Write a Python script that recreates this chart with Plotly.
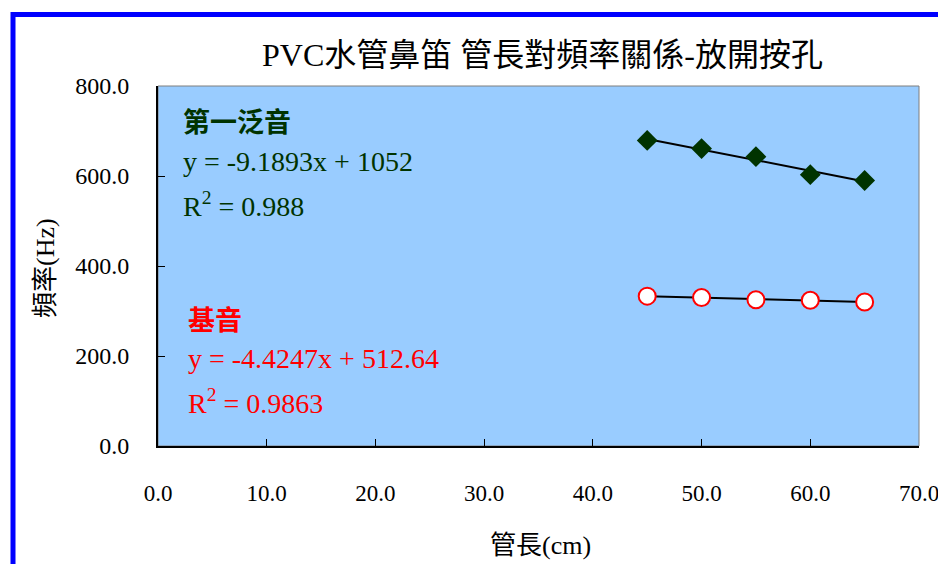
import numpy as np
import plotly.graph_objects as go

# Data
length_cm = [45, 50, 55, 60, 65]
overtone_hz = [679, 661, 643, 603, 590]
fundamental_hz = [333, 330, 325, 324, 320]

x_ticks = [0, 10, 20, 30, 40, 50, 60, 70]
y_ticks = [0, 200, 400, 600, 800]

title_text = "PVC水管鼻笛 管長對頻率關係-放開按孔"
x_title = "管長(cm)"
y_title = "頻率(Hz)"

SERIF = "Liberation Serif, Noto Sans CJK TC, serif"

def fit_line(x, y):
    k, b = np.polyfit(x, y, 1)
    xs = [min(x), max(x)]
    return xs, [k * v + b for v in xs]

fig = go.Figure()

tx, ty = fit_line(length_cm, overtone_hz)
fig.add_trace(go.Scatter(x=tx, y=ty, mode="lines",
                         line=dict(color="black", width=2), hoverinfo="skip"))
tx2, ty2 = fit_line(length_cm, fundamental_hz)
fig.add_trace(go.Scatter(x=tx2, y=ty2, mode="lines",
                         line=dict(color="black", width=2), hoverinfo="skip"))

fig.add_trace(go.Scatter(x=length_cm, y=overtone_hz, mode="markers", name="第一泛音",
                         marker=dict(symbol="diamond", size=16, color="#003300",
                                     line=dict(width=0))))
fig.add_trace(go.Scatter(x=length_cm, y=fundamental_hz, mode="markers", name="基音",
                         marker=dict(symbol="circle", size=17, color="white",
                                     line=dict(color="#FF0000", width=2))))

L, R, T, B = 158, 919, 86, 446
W, H = 938, 564

def px(xp):
    return (xp - L) / (R - L)

def py(yp):
    return (B - yp) / (B - T)

fig.update_layout(
    width=W, height=H, autosize=False,
    margin=dict(l=L, r=W - R, t=T, b=H - B),
    paper_bgcolor="white",
    plot_bgcolor="#99CCFF",
    showlegend=False,
    font=dict(family=SERIF, size=22, color="black"),
)

fig.update_xaxes(
    range=[0, 70], tickvals=x_ticks, ticktext=[f"{v:.1f}" for v in x_ticks],
    showgrid=False, zeroline=False, showline=True, linecolor="black", linewidth=2,
    ticks="inside", ticklen=7, tickcolor="black", tickwidth=1,
    ticklabelstandoff=25, ticklabeloverflow="allow", automargin=False,
    tickfont=dict(family=SERIF, size=23, color="black"),
)
fig.update_yaxes(
    range=[0, 800], tickvals=y_ticks, ticktext=[f"{v:.1f}" for v in y_ticks],
    showgrid=False, zeroline=False, showline=True, linecolor="black", linewidth=2,
    ticks="inside", ticklen=7, tickcolor="black", tickwidth=1,
    ticklabelstandoff=22, ticklabeloverflow="allow", automargin=False,
    tickfont=dict(family=SERIF, size=24, color="black"),
)

# plot area top/right border
fig.add_shape(type="rect", xref="paper", yref="paper", x0=0, x1=1, y0=0, y1=1,
              line=dict(color="#7f7f7f", width=1), layer="below")
# blue outer frame (top and left visible)
fig.add_shape(type="rect", xref="paper", yref="paper",
              x0=px(13), x1=px(960), y0=py(600), y1=py(14.5),
              line=dict(color="#0000FF", width=5))

ann = []
ann.append(dict(text=title_text, x=px(542), y=py(55), xref="paper", yref="paper",
                showarrow=False, xanchor="center", yanchor="middle",
                font=dict(family=SERIF, size=32, color="black")))
ann.append(dict(text=x_title, x=px(540), y=py(545), xref="paper", yref="paper",
                showarrow=False, xanchor="center", yanchor="middle",
                font=dict(family=SERIF, size=26, color="black")))
ann.append(dict(text=y_title, x=px(45), y=py(268), xref="paper", yref="paper",
                showarrow=False, xanchor="center", yanchor="middle", textangle=-90,
                font=dict(family=SERIF, size=26, color="black")))

green = "#003300"
red = "#FF0000"
labels = [
    ("<b>第一泛音</b>", 181, 123, green, 27),
    ("y = -9.1893x + 1052", 181, 161, green, 28),
    ("R<sup>2</sup> = 0.988", 181, 204, green, 28),
    ("<b>基音</b>", 186, 321, red, 27),
    ("y = -4.4247x + 512.64", 186, 358, red, 28),
    ("R<sup>2</sup> = 0.9863", 186, 401, red, 28),
]
for t, x0, y0, c, s in labels:
    ann.append(dict(text=t, x=px(x0), y=py(y0), xref="paper", yref="paper",
                    showarrow=False, xanchor="left", yanchor="middle",
                    font=dict(family=SERIF, size=s, color=c)))
fig.update_layout(annotations=ann)

fig.write_html("out.html",
               config={"responsive": False, "displayModeBar": False},
               post_script="document.body.style.margin='0';document.body.style.padding='0';document.body.style.overflow='hidden';")
